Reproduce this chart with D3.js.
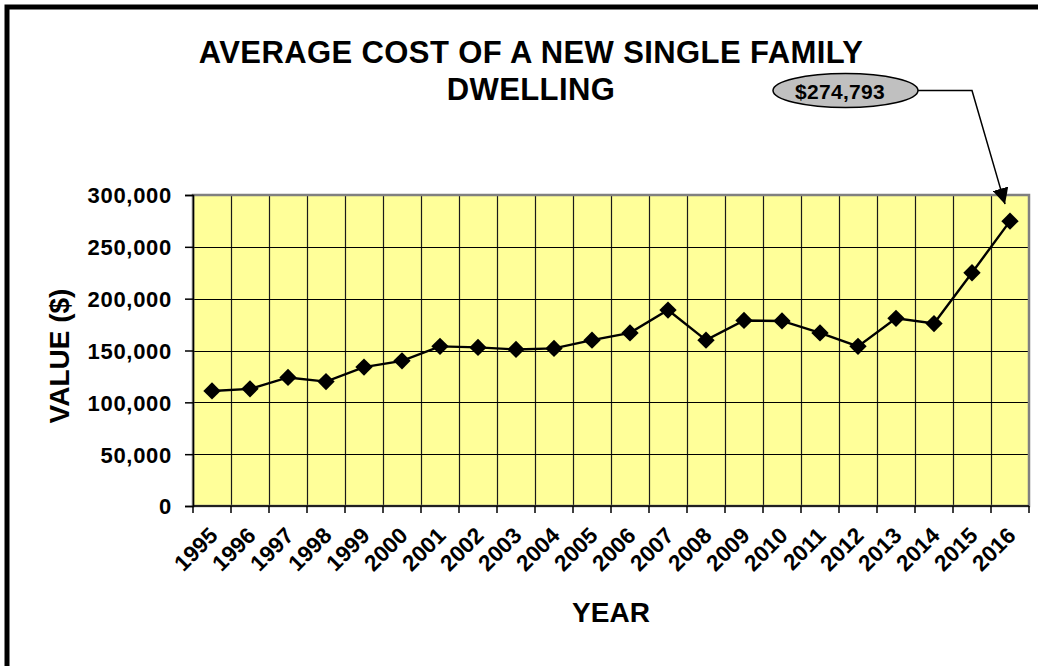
<!DOCTYPE html>
<html>
<head>
<meta charset="utf-8">
<script src="https://cdn.jsdelivr.net/npm/d3@7"></script>
<style>
  html, body { margin: 0; padding: 0; background: #fff; }
  svg { display: block; font-family: "Liberation Sans", Arial, sans-serif; font-weight: bold; }
</style>
</head>
<body>
<svg id="chart" width="1038" height="666"></svg>
<script>
const years = ["1995","1996","1997","1998","1999","2000","2001","2002","2003","2004","2005",
               "2006","2007","2008","2009","2010","2011","2012","2013","2014","2015","2016"];
const values = [111000,113000,124000,120000,134000,140000,154000,153000,151000,152000,160000,
                167000,189000,160000,179000,178500,167000,154000,181000,176000,225000,274793];
const yTicks = [0,50000,100000,150000,200000,250000,300000];
const titleLines = ["AVERAGE COST OF A NEW SINGLE FAMILY", "DWELLING"];
const yTitle = "VALUE ($)";
const xTitle = "YEAR";

const svg = d3.select("#chart");
const L = 193, R = 1029, T = 195, B = 506;
const FONT = "'Liberation Sans', Arial, sans-serif";

const x = d3.scaleBand().domain(years).range([L, R]).padding(0);
const y = d3.scaleLinear().domain([0, 300000]).range([B, T]);

// outer frame
svg.append("rect").attr("x", 7).attr("y", 7).attr("width", 1100).attr("height", 700)
  .attr("fill", "#fff").attr("stroke", "#000").attr("stroke-width", 5);

// title
svg.append("g").selectAll("text").data(titleLines).join("text")
  .attr("x", 531).attr("y", (d, i) => 63 + i * 37)
  .attr("text-anchor", "middle").attr("font-size", 31).attr("letter-spacing", 0.4).attr("fill", "#000")
  .text(d => d);

// plot background
svg.append("rect").attr("x", L).attr("y", T).attr("width", R - L).attr("height", B - T)
  .attr("fill", "#FFFF99");

// vertical gridlines at category boundaries
const bounds = years.map(d => x(d)).concat([x(years[years.length - 1]) + x.bandwidth()]);
svg.append("g").selectAll("line").data(bounds.slice(1, -1)).join("line")
  .attr("x1", d => Math.round(d) + 0.5).attr("x2", d => Math.round(d) + 0.5)
  .attr("y1", T).attr("y2", B).attr("stroke", "#1a1a1a").attr("stroke-width", 1.2);

// horizontal gridlines
svg.append("g").selectAll("line").data(yTicks.slice(1, -1)).join("line")
  .attr("x1", L).attr("x2", R)
  .attr("y1", d => Math.round(y(d)) + 0.5).attr("y2", d => Math.round(y(d)) + 0.5)
  .attr("stroke", "#000").attr("stroke-width", 1);

// plot border
svg.append("rect").attr("x", L).attr("y", T).attr("width", R - L).attr("height", B - T)
  .attr("fill", "none").attr("stroke", "#808080").attr("stroke-width", 2.5);

// y axis
const yAxis = svg.append("g").attr("transform", `translate(${L},0)`)
  .call(d3.axisLeft(y).tickValues(yTicks).tickSize(8).tickPadding(13).tickFormat(d3.format(",")));
yAxis.attr("font-size", null).attr("font-family", null);
yAxis.select(".domain").attr("stroke", "#000").attr("stroke-width", 1.5);
yAxis.selectAll(".tick line").attr("stroke", "#000").attr("stroke-width", 1.5);
yAxis.selectAll(".tick text").style("font-size", "22px").style("font-family", FONT)
  .style("font-weight", "bold").attr("fill", "#000").attr("letter-spacing", 0.7).attr("dy", "0.36em");

// x axis line and boundary ticks
svg.append("line").attr("x1", L).attr("x2", R).attr("y1", B).attr("y2", B)
  .attr("stroke", "#000").attr("stroke-width", 1.5);
svg.append("g").selectAll("line").data(bounds).join("line")
  .attr("x1", d => d).attr("x2", d => d).attr("y1", B).attr("y2", B + 7)
  .attr("stroke", "#000").attr("stroke-width", 1.5);

// x labels
const xAxis = svg.append("g").attr("transform", `translate(0,${B})`)
  .call(d3.axisBottom(x).tickSize(0).tickPadding(0));
xAxis.attr("font-size", null).attr("font-family", null);
xAxis.select(".domain").remove();
xAxis.selectAll(".tick text")
  .style("font-size", "22.5px").style("font-family", FONT)
  .style("font-weight", "bold").attr("fill", "#000").attr("letter-spacing", 0)
  .attr("text-anchor", "end").attr("dy", 0).attr("y", 0)
  .attr("transform", "translate(7,31) rotate(-45)");

// axis titles
svg.append("text").attr("transform", "translate(69,356) rotate(-90)")
  .attr("text-anchor", "middle").attr("font-size", 28).attr("fill", "#000").text(yTitle);
svg.append("text").attr("x", (L + R) / 2).attr("y", 622)
  .attr("text-anchor", "middle").attr("font-size", 28).attr("fill", "#000").text(xTitle);

// line
const cx = d => x(d) + x.bandwidth() / 2;
svg.append("path").datum(values)
  .attr("fill", "none").attr("stroke", "#000").attr("stroke-width", 2.4)
  .attr("d", d3.line().x((d, i) => cx(years[i])).y(d => y(d)));

// markers
svg.append("g").selectAll("path").data(values).join("path")
  .attr("transform", (d, i) => `translate(${cx(years[i])},${y(d)}) rotate(45)`)
  .attr("d", d3.symbol(d3.symbolSquare, 150)())
  .attr("fill", "#000");

// callout
const lastVal = values[values.length - 1];
const lastX = cx(years[years.length - 1]), lastY = y(lastVal);
const ex = 845.5, ey = 90.5, erx = 72.5, ery = 17;
svg.append("defs").append("marker").attr("id", "arr")
  .attr("viewBox", "0 0 10 10").attr("refX", 10).attr("refY", 5)
  .attr("markerWidth", 16).attr("markerHeight", 16).attr("markerUnits", "userSpaceOnUse")
  .attr("orient", "auto")
  .append("path").attr("d", "M0,0 L10,5 L0,10 Z").attr("fill", "#000");
svg.append("path")
  .attr("d", `M${ex + erx},${ey} L${972},${ey} L${lastX - 5},${lastY - 17}`)
  .attr("fill", "none").attr("stroke", "#000").attr("stroke-width", 1.5)
  .attr("marker-end", "url(#arr)");
svg.append("ellipse").attr("cx", ex).attr("cy", ey).attr("rx", erx).attr("ry", ery)
  .attr("fill", "#C0C0C0").attr("stroke", "#000").attr("stroke-width", 1.5);
svg.append("text").attr("x", 840).attr("y", 98.5).attr("text-anchor", "middle")
  .attr("font-size", 21).attr("letter-spacing", 0.3).attr("fill", "#000").text(d3.format("$,")(lastVal));
</script>
</body>
</html>
